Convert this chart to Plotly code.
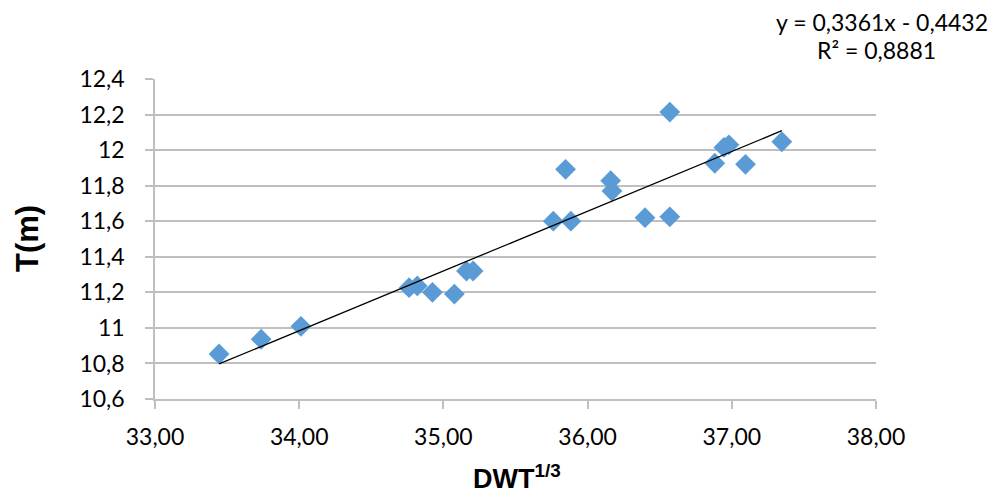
import plotly.graph_objects as go

dwt_cuberoot = [33.444, 33.736, 34.012, 34.762, 34.819, 34.924, 35.076, 35.160, 35.206,
                35.762, 35.884, 35.847, 36.160, 36.169, 36.398, 36.570, 36.570, 36.882,
                36.945, 36.980, 37.095, 37.347]
draft_m = [10.853, 10.936, 11.009, 11.226, 11.236, 11.200, 11.190, 11.320, 11.320,
           11.600, 11.600, 11.892, 11.828, 11.770, 11.620, 11.625, 12.214, 11.926,
           12.015, 12.030, 11.920, 12.047]

slope = 0.3361
intercept = -0.4432
eq_text = "y = 0,3361x - 0,4432"
r2_text = "R² = 0,8881"

x_min, x_max = min(dwt_cuberoot), max(dwt_cuberoot)
trend_x = [x_min, x_max]
trend_y = [slope * v + intercept for v in trend_x]

fig = go.Figure()
fig.add_trace(go.Scatter(
    x=dwt_cuberoot, y=draft_m, mode="markers",
    marker=dict(symbol="diamond", size=16, color="#5B9BD5", line=dict(width=0)),
    showlegend=False,
))
fig.add_trace(go.Scatter(
    x=trend_x, y=trend_y, mode="lines",
    line=dict(color="black", width=1.3), showlegend=False,
))

tick_font = dict(family="Lato", size=23, color="black")

fig.update_layout(
    width=999, height=495,
    margin=dict(l=155, r=123, t=79, b=96),
    paper_bgcolor="white", plot_bgcolor="white",
    separators=", ",
    xaxis=dict(
        range=[33, 38], tickvals=[33, 34, 35, 36, 37, 38], tickformat=".2f",
        showgrid=False, zeroline=False,
        showline=True, linecolor="#bfbfbf", linewidth=1.5,
        ticks="outside", ticklen=8, tickcolor="#bfbfbf", tickwidth=1.5,
        tickfont=tick_font, ticklabelstandoff=9,
    ),
    yaxis=dict(
        range=[10.6, 12.4], tickvals=[10.6, 10.8, 11, 11.2, 11.4, 11.6, 11.8, 12, 12.2, 12.4],
        showgrid=True, gridcolor="#bfbfbf", gridwidth=1.5, zeroline=False,
        showline=True, linecolor="#bfbfbf", linewidth=1.5,
        ticks="outside", ticklen=8, tickcolor="#bfbfbf", tickwidth=1.5,
        tickfont=tick_font, ticklabelstandoff=16,
    ),
    annotations=[
        dict(text=eq_text, xref="paper", yref="paper", x=(881.5 - 155) / 721, y=(495 - 96 - 22) / 320,
             xanchor="center", yanchor="middle", showarrow=False,
             font=dict(family="Lato", size=23, color="black")),
        dict(text=r2_text, xref="paper", yref="paper", x=(876.5 - 155) / 721, y=(495 - 96 - 50) / 320,
             xanchor="center", yanchor="middle", showarrow=False,
             font=dict(family="Lato", size=23, color="black")),
        dict(text="<b>DWT<sup>1/3</sup></b>", xref="paper", yref="paper",
             x=(517 - 155) / 721, y=(495 - 96 - 477) / 320,
             xanchor="center", yanchor="middle", showarrow=False,
             font=dict(family="Liberation Sans", size=27, color="black")),
        dict(text="<b>T(m)</b>", xref="paper", yref="paper",
             x=(27 - 155) / 721, y=(495 - 96 - 239) / 320, textangle=-90,
             xanchor="center", yanchor="middle", showarrow=False,
             font=dict(family="Liberation Sans", size=31, color="black")),
    ],
)

fig.write_html("out.html")
